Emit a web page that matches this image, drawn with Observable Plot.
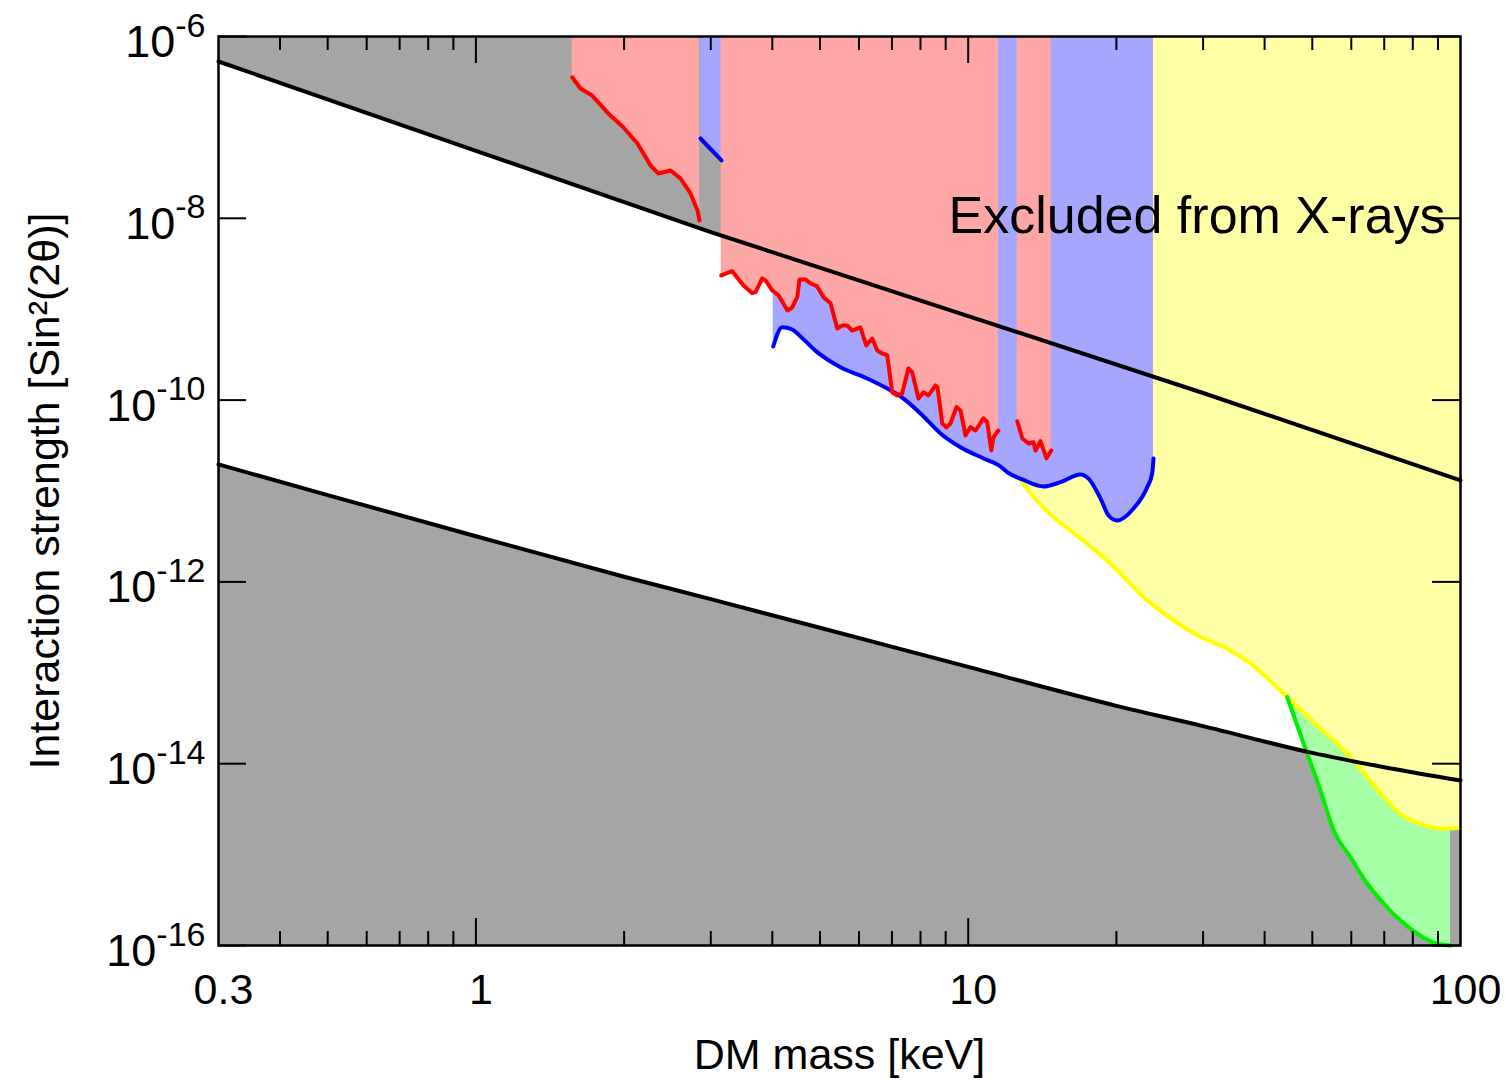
<!DOCTYPE html>
<html><head><meta charset="utf-8">
<script src="https://cdn.jsdelivr.net/npm/d3@7"></script>
<script src="https://cdn.jsdelivr.net/npm/@observablehq/plot@0.6"></script>
<style>html,body{margin:0;padding:0;background:#fff;} svg{display:block}</style>
</head><body><div id="chart"></div>
<script>
// ---------- data (DM mass in keV, sin^2(2theta)) ----------
const upperMass = [0.3, 1, 3, 10, 30, 100];
const upperSin = [5.31e-7, 5.53e-8, 7.05e-9, 8.41e-10, 1.197e-10, 1.306e-11];

const lowerMass = [0.3, 0.5, 1, 2, 3, 5, 10, 20, 30, 50, 70, 100];
const lowerSin = [1.96e-11, 9.02e-12, 3.18e-12, 1.14e-12, 6.46e-13, 3.13e-13, 1.16e-13, 4.33e-14, 2.59e-14, 1.315e-14, 9.16e-15, 6.53e-15];

const red1Mass = [1.569, 1.631, 1.722, 1.876, 1.994, 2.129, 2.263, 2.349, 2.485, 2.604, 2.729, 2.819, 2.846];
const red1Sin = [3.56e-7, 2.68e-7, 2.24e-7, 1.35e-7, 9.98e-8, 6.65e-8, 3.81e-8, 3.11e-8, 3.36e-8, 2.74e-8, 1.875e-8, 1.22e-8, 9.46e-9];

const blue1Mass = [2.859, 3.154];
const blue1Sin = [7.55e-8, 4.33e-8];

const red2Mass = [3.150, 3.316, 3.496, 3.641, 3.698, 3.815, 3.875, 3.998, 4.118, 4.295,
  4.390, 4.495, 4.543, 4.672, 4.783, 4.935, 5.082, 5.252, 5.419, 5.548,
  5.678, 5.813, 6.041, 6.205, 6.383, 6.535, 6.689, 6.848, 7.006, 7.172,
  7.341, 7.561, 7.693, 7.926, 8.113, 8.305, 8.583, 8.663, 8.856, 9.036,
  9.204, 9.467, 9.647, 9.874, 10.11, 10.35, 10.74, 10.93, 11.14, 11.26, 11.52];
const red2Sin = [2.35e-9, 2.62e-9, 1.82e-9, 1.50e-9, 1.54e-9, 2.18e-9, 2.07e-9, 1.61e-9, 1.42e-9, 9.68e-10,
  1.045e-9, 1.355e-9, 2.12e-9, 2.12e-9, 1.92e-9, 1.78e-9, 1.355e-9, 1.16e-9, 6.14e-10, 6.62e-10,
  6.62e-10, 5.83e-10, 6.30e-10, 3.99e-10, 4.76e-10, 3.52e-10, 3.26e-10, 3.10e-10, 1.22e-10, 1.125e-10,
  1.18e-10, 2.23e-10, 2.03e-10, 1.04e-10, 1.22e-10, 1.125e-10, 1.45e-10, 1.38e-10, 5.53e-11, 5.00e-11,
  5.53e-11, 8.36e-11, 7.69e-11, 4.08e-11, 5.04e-11, 4.63e-11, 6.28e-11, 5.71e-11, 2.79e-11, 3.91e-11, 4.63e-11];

const red3Mass = [12.58, 12.88, 13.26, 13.57, 13.70, 14.02, 14.42, 14.75];
const red3Sin = [5.86e-11, 3.78e-11, 3.33e-11, 3.44e-11, 2.79e-11, 3.53e-11, 2.28e-11, 2.79e-11];

const blue2Mass = [4.017, 4.190, 4.390, 4.564, 4.935, 5.503, 6.234, 6.848, 7.389, 8.000, 8.784, 9.647, 10.74, 11.63,
  12.00, 12.88, 14.22, 15.40, 16.91, 17.56, 18.57, 19.28, 20.08, 21.67, 23.10, 23.65, 23.79];
const blue2Sin = [3.89e-10, 6.34e-10, 5.98e-10, 5.01e-10, 3.37e-10, 2.30e-10, 1.73e-10, 1.34e-10, 1.04e-10, 7.13e-11, 4.30e-11, 3.03e-11, 2.28e-11, 1.86e-11,
  1.61e-11, 1.34e-11, 1.12e-11, 1.25e-11, 1.52e-11, 1.37e-11, 8.26e-12, 5.37e-12, 4.73e-12, 6.41e-12, 1.10e-11, 1.56e-11, 2.28e-11];

const yellowMass = [12.77, 13.59, 15.17, 16.14, 19.46, 22.73, 26.16, 29.65, 33.59, 37.45, 43.76, 51.17, 59.78, 64.65, 69.88, 75.52, 82.93, 91.08, 100];
const yellowSin = [1.31e-11, 8.55e-12, 4.73e-12, 3.67e-12, 1.58e-12, 6.79e-13, 3.76e-13, 2.47e-13, 1.84e-13, 1.26e-13, 5.87e-14, 2.63e-14, 1.18e-14, 7.10e-15, 4.28e-15, 2.81e-15, 2.18e-15, 1.92e-15, 1.97e-15];

const greenMass = [44.46, 48.84, 51.95, 55.28, 59.78, 64.65, 69.88, 75.52, 81.66, 89.66, 95.43];
const greenSin = [5.40e-14, 1.285e-14, 5.07e-15, 1.84e-15, 9.35e-16, 4.78e-16, 2.88e-16, 1.88e-16, 1.35e-16, 1.045e-16, 1.0e-16];

const grayPatchMass = [95.43, 100];
const grayPatchSin = [1e-16, 1.95e-15];

const annoMass = [9.12];
const annoSin = [1.05e-8];
const annoText = ["Excluded from X-rays"];

const xDomain = [0.3, 100];
const yDomain = [1e-16, 1e-6];
const yTicks = [1e-6, 1e-8, 1e-10, 1e-12, 1e-14, 1e-16];
const yTickExp = ["-6", "-8", "-10", "-12", "-14", "-16"];
const xMajor = [1, 10];
const xMinor = [0.4, 0.5, 0.6, 0.7, 0.8, 0.9, 2, 3, 4, 5, 6, 7, 8, 9, 20, 30, 40, 50, 60, 70, 80, 90];
const xLabelValues = [0.3, 1, 10, 100];
const xLabelText = ["0.3", "1", "10", "100"];
const xTitle = "DM mass [keV]";
const yTitle = "Interaction strength [Sin\u00B2(2\u03B8)]";

// ---------- build ----------
const rows = (ms, ss) => ms.map((m, i) => ({m, s: ss[i]}));
const upper = rows(upperMass, upperSin);
const lower = rows(lowerMass, lowerSin);
const red1 = rows(red1Mass, red1Sin), red2 = rows(red2Mass, red2Sin), red3 = rows(red3Mass, red3Sin);
const blue1 = rows(blue1Mass, blue1Sin), blue2 = rows(blue2Mass, blue2Sin);
const yellow = rows(yellowMass, yellowSin);
const green = rows(greenMass, greenSin);

const W = 1507, H = 1080, mL = 218, mR = 47, mT = 36, mB = 135;
const plotW = W - mL - mR, plotH = H - mT - mB;
const majorLen = 27, minorLen = 14, yTickLen = 28;

const GRAY = "#a5a5a5", PINK = "#ffa6a6", LBLUE = "#a6a6ff", LYEL = "#ffffa6", LGRN = "#a6ffa6";
const LW = 4;

const fillTop = (data, fill, curve = "linear") => Plot.areaY(data, {x: "m", y1: "s", y2: yDomain[1], fill, curve});
const ln = (data, stroke, curve = "linear") => Plot.line(data, {x: "m", y: "s", stroke, strokeWidth: LW, curve, strokeLinejoin: "round"});

const chart = Plot.plot({
  width: W, height: H,
  marginLeft: mL, marginRight: mR, marginTop: mT, marginBottom: mB,
  style: {fontFamily: "'Liberation Sans', Arial, Helvetica, sans-serif", background: "white", color: "black"},
  x: {type: "log", domain: xDomain, axis: null},
  y: {type: "log", domain: yDomain, axis: null},
  marks: [
    // gray excluded regions
    Plot.areaY(upper, {x: "m", y1: "s", y2: yDomain[1], fill: GRAY}),
    Plot.areaY(lower, {x: "m", y1: yDomain[0], y2: "s", fill: GRAY, curve: "monotone-x"}),
    Plot.rect([0], {x1: grayPatchMass[0], x2: grayPatchMass[1], y1: grayPatchSin[0], y2: grayPatchSin[1], fill: GRAY}),
    // colored exclusion regions
    fillTop(green, LGRN, "monotone-x"),
    fillTop(yellow, LYEL, "monotone-x"),
    fillTop(blue1, LBLUE),
    fillTop(blue2, LBLUE, "monotone-x"),
    fillTop(red1, PINK),
    fillTop(red2, PINK),
    fillTop(red3, PINK),
    // boundary lines
    ln(yellow, "#ffff00", "monotone-x"),
    ln(green, "#00ee00", "monotone-x"),
    ln(blue1, "#0000ff"),
    ln(blue2, "#0000ff", "monotone-x"),
    ln(red1, "#ff0000"),
    ln(red2, "#ff0000"),
    ln(red3, "#ff0000"),
    Plot.line(upper, {x: "m", y: "s", stroke: "black", strokeWidth: LW}),
    Plot.line(lower, {x: "m", y: "s", stroke: "black", strokeWidth: LW, curve: "monotone-x"}),
    // ticks (inward)
    Plot.tickX(xMajor, {x: d => d, insetTop: plotH - majorLen, stroke: "black", strokeWidth: 2}),
    Plot.tickX(xMajor, {x: d => d, insetBottom: plotH - majorLen, stroke: "black", strokeWidth: 2}),
    Plot.tickX(xMinor, {x: d => d, insetTop: plotH - minorLen, stroke: "black", strokeWidth: 2}),
    Plot.tickX(xMinor, {x: d => d, insetBottom: plotH - minorLen, stroke: "black", strokeWidth: 2}),
    Plot.tickY(yTicks, {y: d => d, insetRight: plotW - yTickLen, stroke: "black", strokeWidth: 2}),
    Plot.tickY(yTicks, {y: d => d, insetLeft: plotW - yTickLen, stroke: "black", strokeWidth: 2}),
    Plot.frame({stroke: "black", strokeWidth: 2.5}),
    // tick labels
    Plot.text(xLabelValues, {x: d => d, text: (d, i) => xLabelText[i], frameAnchor: "bottom", dy: 58, dx: 5, fontSize: 43, fill: "black"}),
    Plot.text(yTicks, {y: d => d, text: (d, i) => yTickExp[i], frameAnchor: "left", dx: -13, dy: 6, textAnchor: "end", fontSize: 45, fill: "black"}),
    // axis titles
    Plot.text([xTitle], {text: d => d, frameAnchor: "bottom", dy: 123, fontSize: 43, fill: "black"}),
    Plot.text([yTitle], {text: d => d, frameAnchor: "left", textAnchor: "middle", dx: -173, rotate: -90, fontSize: 43, fill: "black"}),
    // annotation
    Plot.text(annoText, {x: (d, i) => annoMass[i], y: (d, i) => annoSin[i], text: d => d, textAnchor: "start", fontSize: 52, fill: "black"})
  ]
});

// superscript exponents on the y tick labels
d3.select(chart).selectAll("text").filter(function () {
  return yTickExp.includes(this.textContent);
}).each(function () {
  const t = d3.select(this);
  const exp = this.textContent;
  t.text(null);
  t.append("tspan").text("10");
  t.append("tspan").attr("dy", "-0.6em").attr("font-size", 34).text(exp);
});

document.getElementById("chart").appendChild(chart);
</script>
</body></html>
